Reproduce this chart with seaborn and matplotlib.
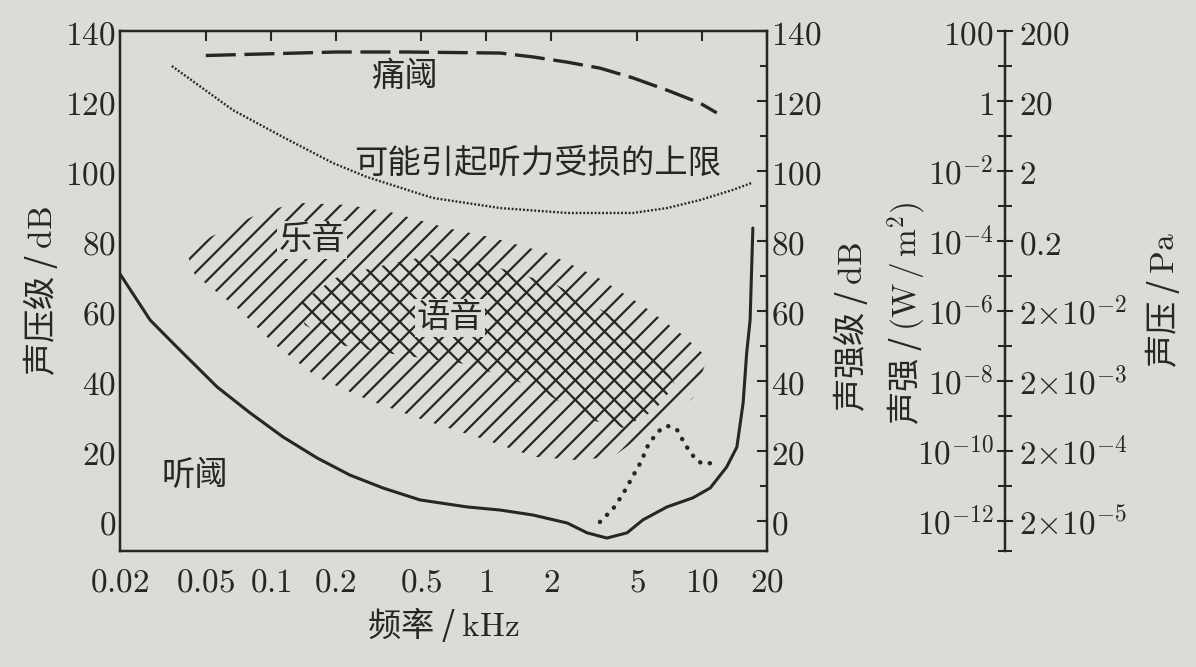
# %% packages
import pandas as pd
import seaborn as sns
import matplotlib.pyplot as plt
from matplotlib.ticker import NullFormatter

# %% data (frequency in kHz, level in dB)
freq_ticks = [0.02, 0.05, 0.1, 0.2, 0.5, 1, 2, 5, 10, 20]
freq_tick_labels = ['0.02', '0.05', '0.1', '0.2', '0.5', '1', '2', '5', '10', '20']
db_ticks = [0, 20, 40, 60, 80, 100, 120, 140]
db_minor = [10, 30, 50, 70, 90, 110, 130]
intensity_labels = ['10^{-12}', '10^{-10}', '10^{-8}', '10^{-6}', '10^{-4}', '10^{-2}', '1', '100']
pressure_labels = ['2{\\times}10^{-5}', '2{\\times}10^{-4}', '2{\\times}10^{-3}', '2{\\times}10^{-2}',
                   '0.2', '2', '20', '200']

pain_freq = [0.05, 0.1, 0.2, 0.43, 1.16, 1.64, 2.37, 3.36, 4.78, 6.88, 9.78, 11.7]
pain_db = [133, 133.5, 134, 134, 133.7, 132.6, 131.1, 129.4, 126.6, 123.1, 119.4, 116.6]

damage_freq = [0.0348, 0.0668, 0.114, 0.194, 0.279, 0.477, 0.565, 1.16, 2.37, 4.78, 6.88, 9.78, 13.9, 17.0]
damage_db = [130, 117.4, 109.7, 102.3, 98.3, 93.7, 92.3, 89.4, 88, 88, 89.4, 91.7, 94.6, 96.6]

hearing_freq = [0.02, 0.0276, 0.0367, 0.0564, 0.0801, 0.114, 0.164, 0.233, 0.332, 0.492, 0.813,
                1.16, 1.64, 2.37, 2.93, 3.62, 4.49, 5.32, 6.88, 9.07, 10.9, 13.0, 14.5, 15.5,
                16.1, 16.7, 17.2]
hearing_db = [70.6, 57.4, 49.7, 38.3, 30.9, 24, 18, 13.1, 9.4, 6, 4, 3.1, 1.7, -0.6, -3.4, -4.9,
              -3.4, 0.3, 4, 6.6, 9.4, 15.4, 21.1, 33.7, 48, 57.4, 83.7]

dots_freq = [3.36, 3.86, 4.30, 4.73, 5.21, 5.68, 6.45, 6.95, 7.66, 8.43, 9.38, 10.1, 11.4]
dots_db = [-0.3, 3.4, 7.7, 12.3, 16.9, 22.3, 26.3, 27.1, 26, 21.4, 17.4, 16.3, 16.6]

music_freq = [0.0413, 0.0523, 0.0891, 0.132, 0.226, 0.357, 0.656, 1.04, 1.91, 3.26, 5.26, 8.15,
              10.6, 9.07, 3.86, 2.63, 1.68, 0.933, 0.508, 0.282, 0.164, 0.105, 0.0698, 0.0445]
music_db = [75.7, 81.1, 88, 90.9, 90.3, 88.3, 83.7, 81.1, 76.6, 69.7, 61.7, 53.1, 46.6, 35.1,
            18.3, 17.4, 18.3, 23.7, 28.9, 34.6, 41.1, 50.3, 60.9, 70.3]

speech_freq = [0.132, 0.199, 0.294, 0.56, 1.04, 2.12, 4.16, 6.38, 7.49, 6.05, 4.30, 3.02, 1.77,
               1.16, 0.755, 0.397, 0.209, 0.144]
speech_db = [61.7, 69.4, 72.3, 76, 73.1, 67.4, 57.4, 47.4, 38.9, 31.7, 26.6, 28.9, 37.4, 41.7,
             45.1, 47.4, 50.3, 56]

# %% style
# dpi picked so the hatch spacing matches the printed one; k keeps sizes in pixels unchanged
DPI = 117
k = 100 / DPI
FS = 24 * k
paper = '#dddbd6'
ink = '#262626'
sns.set_theme(style='white')
plt.rcParams['font.family'] = ['Noto Sans CJK SC', 'DejaVu Sans']
plt.rcParams['mathtext.fontset'] = 'cm'
plt.rcParams['hatch.linewidth'] = 1.6 * k
plt.rcParams['axes.unicode_minus'] = False

fig = plt.figure(figsize=(1196 / DPI, 667 / DPI), dpi=DPI, facecolor=paper)
ax = fig.add_axes([0.1003, 0.1739, 0.5410, 0.7796], facecolor=paper)

# hatched regions
ax.fill(music_freq, music_db, facecolor='none', edgecolor=ink, linewidth=0, hatch='//')
ax.fill(speech_freq, speech_db, facecolor='none', edgecolor=ink, linewidth=0, hatch='\\\\')

# curves
sns.lineplot(x=pain_freq, y=pain_db, ax=ax, sort=False, estimator=None, color=ink,
             linewidth=2.4 * k, linestyle=(0, (9, 2.6)))
sns.lineplot(x=damage_freq, y=damage_db, ax=ax, sort=False, estimator=None, color=ink,
             linewidth=1.7 * k, linestyle=(0, (0.8, 0.8)))
sns.lineplot(x=hearing_freq, y=hearing_db, ax=ax, sort=False, estimator=None, color=ink,
             linewidth=2.2 * k)
sns.lineplot(x=dots_freq, y=dots_db, ax=ax, sort=False, estimator=None, color=ink,
             linewidth=3.2 * k, linestyle=(0, (0.05, 2.2)), dash_capstyle='round')

# labels inside the plot
box = dict(facecolor=paper, edgecolor='none', pad=1)
ax.text(0.419, 126.9, '痛阈', fontsize=FS, ha='center', va='center', color=ink)
ax.text(1.73, 102.3, '可能引起听力受损的上限', fontsize=FS, ha='center', va='center', color=ink)
ax.text(0.155, 80.3, '乐音', fontsize=FS, ha='center', va='center', color=ink, bbox=box)
ax.text(0.678, 58, '语音', fontsize=FS, ha='center', va='center', color=ink, bbox=box)
ax.text(0.0445, 13.1, '听阈', fontsize=FS, ha='center', va='center', color=ink)

# axes and ticks
ax.set_xscale('log')
ax.set_xlim(0.02, 20)
ax.set_ylim(-8.6, 140)
ax.set_xticks(freq_ticks, labels=['$' + t + '$' for t in freq_tick_labels])
ax.set_xticks([3], minor=True)
ax.xaxis.set_minor_formatter(NullFormatter())
ax.set_yticks(db_ticks, labels=['$%d$' % t for t in db_ticks])
ax.set_yticks(db_minor, minor=True)
ax.tick_params(axis='both', which='both', direction='in', color=ink, width=1.5 * k,
               top=True, right=True, labelright=True, labelsize=FS, labelcolor=ink)
ax.tick_params(axis='both', which='major', length=7 * k)
ax.tick_params(axis='both', which='minor', length=5 * k)
ax.tick_params(axis='x', which='minor', top=False)
ax.tick_params(axis='x', which='major', pad=10 * k)
ax.tick_params(axis='y', which='major', pad=3 * k)
for s in ax.spines.values():
    s.set_color(ink)
    s.set_linewidth(1.8 * k)
ax.set_xlabel('频率 / $\\mathrm{kHz}$', fontsize=FS, color=ink, labelpad=4 * k)
ax.set_ylabel('声压级 / $\\mathrm{dB}$', fontsize=FS, color=ink, labelpad=4 * k)

# far right scale: intensity (left labels) and pressure (right labels)
ax3 = fig.add_axes([0.8403, 0.1739, 0.0001, 0.7796])
ax3.patch.set_visible(False)
ax3.set_ylim(ax.get_ylim())
ax3.set_xticks([])
for name, s in ax3.spines.items():
    s.set_visible(name == 'left')
ax3.spines['left'].set_color(ink)
ax3.spines['left'].set_linewidth(1.8 * k)
ax3.set_yticks(db_ticks, labels=['$' + t + '$' for t in intensity_labels])
ax3.set_yticks(db_minor + [ax.get_ylim()[0]], minor=True)
ax3.tick_params(axis='y', which='both', direction='inout', color=ink, width=1.5 * k,
                labelsize=FS, labelcolor=ink, pad=2 * k)
ax3.tick_params(axis='y', which='major', length=12 * k)
ax3.tick_params(axis='y', which='minor', length=10 * k)

ax4 = ax3.twinx()
ax4.patch.set_visible(False)
ax4.set_ylim(ax.get_ylim())
for s in ax4.spines.values():
    s.set_visible(False)
ax4.set_yticks(db_ticks, labels=['$' + t + '$' for t in pressure_labels])
ax4.tick_params(axis='y', length=0, labelsize=FS, labelcolor=ink, pad=10 * k)

fig.text(0.711, 0.51, '声强级 / $\\mathrm{dB}$', rotation=90, fontsize=FS, color=ink,
         ha='center', va='center')
fig.text(0.758, 0.53, '声强 / $(\\mathrm{W}\\,/\\,\\mathrm{m}^2)$', rotation=90, fontsize=FS,
         color=ink, ha='center', va='center')
fig.text(0.972, 0.55, '声压 / $\\mathrm{Pa}$', rotation=90, fontsize=FS, color=ink,
         ha='center', va='center')

fig.savefig('out.png', dpi=DPI, facecolor=paper)
